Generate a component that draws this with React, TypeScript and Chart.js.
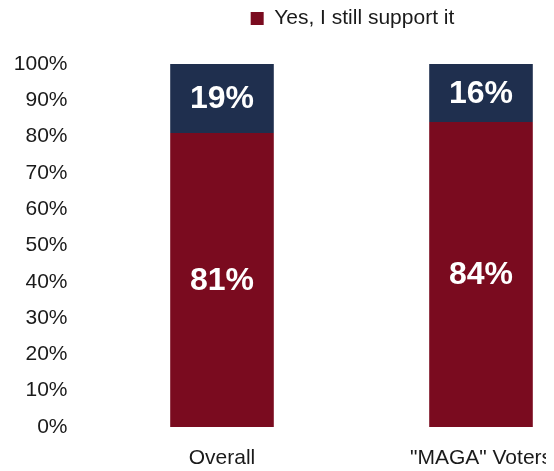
import React, { useEffect, useRef } from "react";
import { Chart, registerables } from "chart.js";

Chart.register(...registerables);

const categories = ["Overall", "\"MAGA\" Voters"];
const yesValues = [81, 84];
const noValues = [19, 16];
const seriesNames = ["Yes, I still support it", "No"];
const yTicks = [0, 10, 20, 30, 40, 50, 60, 70, 80, 90, 100];

const RED = "#7A0B1F";
const NAVY = "#1F2F4E";
const TEXT = "#1a1a1a";
const FONT = "'Liberation Sans', Arial, sans-serif";

const labelPlugin = {
  id: "barLabels",
  afterDatasetsDraw(chart: any) {
    const ctx = chart.ctx;
    ctx.save();
    ctx.fillStyle = "#ffffff";
    ctx.font = `bold 32px ${FONT}`;
    ctx.textAlign = "center";
    ctx.textBaseline = "middle";
    chart.data.datasets.forEach((ds: any, di: number) => {
      const meta = chart.getDatasetMeta(di);
      meta.data.forEach((bar: any, i: number) => {
        const p = bar.getCenterPoint();
        ctx.fillText(`${ds.data[i]}%`, p.x, p.y + 1);
      });
    });
    ctx.restore();
  },
};

export default function App() {
  const ref = useRef<HTMLCanvasElement>(null);
  useEffect(() => {
    if (!ref.current) return;
    const chart = new Chart(ref.current, {
      type: "bar",
      data: {
        labels: categories,
        datasets: [
          { label: seriesNames[0], data: yesValues, backgroundColor: RED, yAxisID: "y" },
          { label: seriesNames[1], data: noValues, backgroundColor: NAVY, yAxisID: "y" },
        ],
      },
      options: {
        animation: false,
        responsive: false,
        devicePixelRatio: 1,
        layout: { padding: { top: 0, bottom: 0, left: 0, right: 0 } },
        datasets: { bar: { barPercentage: 0.4, categoryPercentage: 1 } },
        plugins: {
          tooltip: { enabled: false },
          legend: {
            position: "top",
            labels: {
              filter: (item: any) => item.datasetIndex === 0,
              boxWidth: 13,
              boxHeight: 13,
              padding: 0,
              color: TEXT,
              font: { family: FONT, size: 21 },
            },
          },
        },
        scales: {
          x: {
            stacked: true,
            grid: { display: false, drawTicks: false },
            border: { display: false },
            ticks: { color: TEXT, padding: 19, font: { family: FONT, size: 21 } },
            afterFit: (s: any) => {
              s.height = 44;
            },
          },
          x2: {
            position: "top",
            display: true,
            grid: { display: false, drawTicks: false },
            border: { display: false },
            ticks: { display: false },
            afterFit: (s: any) => {
              s.height = 25;
            },
          },
          y: {
            stacked: true,
            min: 0,
            max: 100,
            afterBuildTicks: (s: any) => {
              s.ticks = yTicks.map((v) => ({ value: v }));
            },
            afterFit: (s: any) => {
              s.width = 84.5;
            },
            grid: { display: false, drawTicks: false },
            border: { display: false },
            ticks: {
              color: TEXT,
              padding: 25,
              font: { family: FONT, size: 21 },
              callback: (v: any) => `${v}%`,
            },
          },
          y2: {
            position: "right",
            display: true,
            min: 0,
            max: 100,
            grid: { display: false, drawTicks: false },
            border: { display: false },
            ticks: { display: false },
            afterFit: (s: any) => {
              s.width = 86.5;
            },
          },
        },
      },
      plugins: [labelPlugin],
    });
    return () => chart.destroy();
  }, []);
  return (
    <div style={{ width: 546, height: 463, overflow: "hidden" }}>
      <canvas ref={ref} width={689} height={463} style={{ width: 689, height: 463, display: "block" }} />
    </div>
  );
}
